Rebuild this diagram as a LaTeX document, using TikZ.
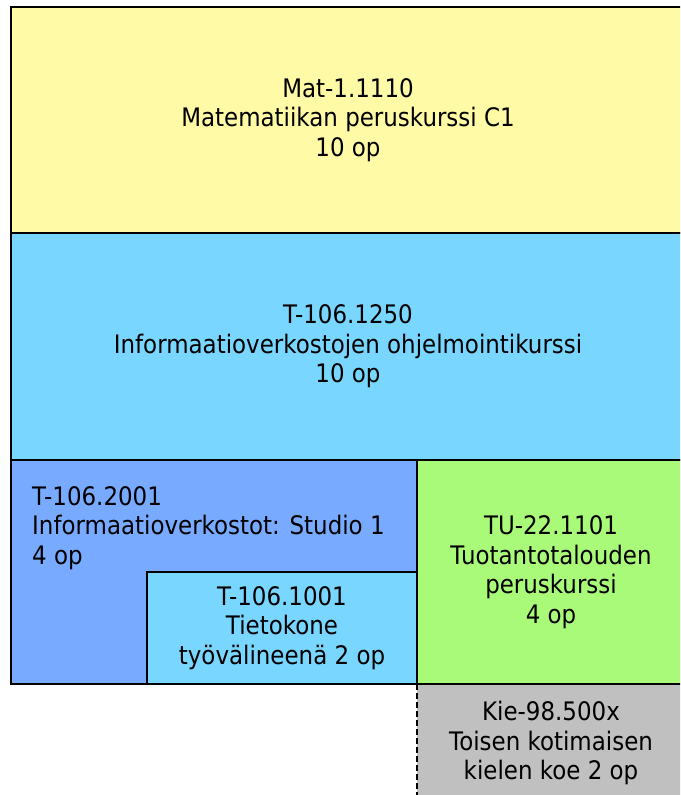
\documentclass[tikz,border=0pt]{standalone}
\usepackage{fontspec}
\setmainfont{DejaVu Sans}[FakeStretch=0.9]
\definecolor{kurssi_yellow}{RGB}{255, 250, 165}
\definecolor{kurssi_cyan}{RGB}{120, 214, 255}
\definecolor{kurssi_blue}{RGB}{120, 170, 255}
\definecolor{kurssi_green}{RGB}{170, 250, 122}
\definecolor{kurssi_gray}{RGB}{192, 192, 192}
\usepackage{tikz}
\usetikzlibrary{positioning}

\begin{document}
\begin{tikzpicture}[x=1pt, y=-1pt,
      course/.style={rectangle, draw=black, line width=2.5pt,
                     inner sep=0pt, outer sep=0pt, anchor=north west,
                     align=center, font=\fontsize{25.5}{29.5}\selectfont},
      optional/.style={black, line width=2.5pt, dash pattern=on 6pt off 3pt},
    ]
      \useasboundingbox (0,0) rectangle (680,795);
      \clip (0,0) rectangle (680,795);

      \node[course, fill=kurssi_yellow, minimum width=674pt,
            minimum height=226pt] (mat) at (11,7)
            {Mat-1.1110\\Matematiikan peruskurssi C1\\10 op};
      \node[course, fill=kurssi_cyan, minimum width=674pt,
            minimum height=227pt] (ohj) at (mat.south west)
            {T-106.1250\\Informaatioverkostojen ohjelmointikurssi\\10 op};

      \node[course, fill=kurssi_blue, minimum width=406pt,
            minimum height=224pt] (studio) at (ohj.south west) {};
      \node[course, fill=kurssi_cyan, minimum width=270pt,
            minimum height=112pt] (tieto) at (147,572)
            {T-106.1001\\Tietokone\\työvälineenä 2 op};
      \node[font=\fontsize{25.5}{29.5}\selectfont, align=left, anchor=west,
            inner sep=0pt] (studiotxt) at (32,528)
            {T-106.2001\\Informaatioverkostot: Studio 1\\4 op};

      % kieli on merkitty katkoviivalla
      \node[course, draw=none, fill=kurssi_gray, minimum width=268pt,
            minimum height=118pt] (kie) at (417,684)
            {Kie-98.500x\\Toisen kotimaisen\\kielen koe 2 op};
      \node[course, fill=kurssi_green, minimum width=268pt,
            minimum height=224pt] (tuta) at (studio.north east)
            {TU-22.1101\\Tuotantotalouden\\peruskurssi\\4 op};
      \draw[optional] (kie.north west) -- (kie.south west);
    \end{tikzpicture}
\end{document}
